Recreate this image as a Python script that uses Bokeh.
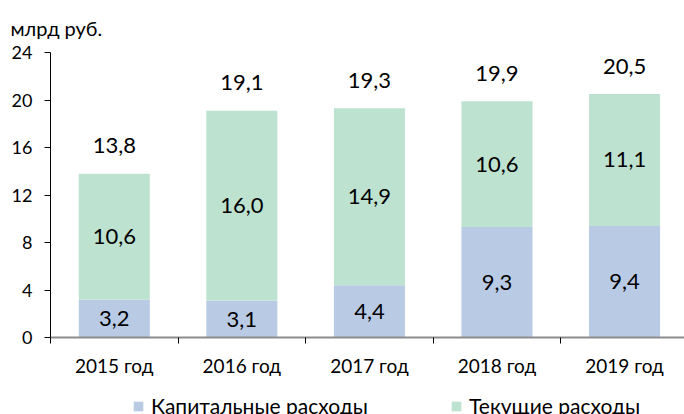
import numpy as np
from bokeh.plotting import figure
from bokeh.layouts import column
from bokeh.models import (Range1d, FixedTicker, Legend, LegendItem, Title,
                          ColumnDataSource)
from bokeh.core.properties import value
from bokeh.embed import file_html
from bokeh.resources import INLINE

# ---- data ----
years = ["2015 год", "2016 год", "2017 год", "2018 год", "2019 год"]
capital = [3.2, 3.1, 4.4, 9.3, 9.4]
current = [10.6, 16.0, 14.9, 10.6, 11.1]
totals = [13.8, 19.1, 19.3, 19.9, 20.5]
y_ticks = [0, 4, 8, 12, 16, 20, 24]
unit_label = "млрд руб."
series_names = ["Капитальные расходы", "Текущие расходы"]

FONT = "Lato"
BLUE = "#B8CAE4"
GREEN = "#BEE2D0"

def fmt(v):
    return f"{v:.1f}".replace(".", ",")

x = np.arange(len(years)) + 0.5
cap = np.array(capital)
cur = np.array(current)

src = ColumnDataSource(dict(
    x=x, cap=cap, cur_top=cap + cur,
    cap_mid=cap / 2, cur_mid=cap + cur / 2,
    cap_lbl=[fmt(v) for v in capital],
    cur_lbl=[fmt(v) for v in current],
    tot=totals, tot_lbl=[fmt(v) for v in totals],
))

p = figure(width=684, height=384, output_backend="svg", toolbar_location=None,
           x_range=Range1d(0, 4.97), y_range=Range1d(0, 24),
           min_border_left=50, min_border_right=0, min_border_top=50,
           min_border_bottom=47)
p.outline_line_color = None
p.grid.visible = False
p.background_fill_color = "white"

w = 0.557
p.vbar(x="x", bottom=0, top="cap", width=w, source=src,
       fill_color=BLUE, line_color=None)
p.vbar(x="x", bottom="cap", top="cur_top", width=w, source=src,
       fill_color=GREEN, line_color=None)

common = dict(text_font=value(FONT), text_font_size="22px", text_color="black",
              text_align="center", text_baseline="middle", source=src)
p.text(x="x", y="cap_mid", text="cap_lbl", **common)
p.text(x="x", y="cur_mid", text="cur_lbl", **common)
p.text(x="x", y="tot", text="tot_lbl", y_offset=-28, **common)

# y axis
ya = p.yaxis[0]
ya.ticker = FixedTicker(ticks=y_ticks)
ya.axis_line_color = "black"
ya.major_tick_line_color = "black"
ya.major_tick_out = 6
ya.major_tick_in = 0
ya.minor_tick_line_color = None
ya.major_label_standoff = 12
ya.major_label_text_font = FONT
ya.major_label_text_font_size = "18px"
ya.major_label_text_color = "black"

# x axis
xa = p.xaxis[0]
xa.ticker = FixedTicker(ticks=list(x), minor_ticks=list(range(len(years) + 1)))
xa.major_label_overrides = {float(c): lbl for c, lbl in zip(x, years)}
xa.axis_line_color = "#8C8C8C"
xa.axis_line_width = 2
xa.major_tick_line_color = None
xa.major_tick_out = 0
xa.major_tick_in = 0
xa.minor_tick_line_color = "black"
xa.minor_tick_out = 6
xa.minor_tick_in = 0
xa.major_label_standoff = 10
xa.major_label_text_font = FONT
xa.major_label_text_font_size = "19px"
xa.major_label_text_color = "black"

# unit label as title
t = Title(text=unit_label, align="left", offset=-40, standoff=26,
          text_font=FONT, text_font_size="20px", text_font_style="normal",
          text_color="black")
p.add_layout(t, "above")

# legend strip (separate figure below the chart; frames align with main plot)
lf = figure(width=684, height=30, output_backend="svg", toolbar_location=None,
            x_range=Range1d(0, 1), y_range=Range1d(0, 1),
            x_axis_location=None, y_axis_location=None,
            min_border_left=0, min_border_right=0, min_border_top=0,
            min_border_bottom=0)
lf.outline_line_color = None
lf.grid.visible = False
# swatch renderers kept outside the visible range; only used by the legend
off = ColumnDataSource(dict(x=[10], top=[10]))
lr_cap = lf.vbar(x="x", top="top", width=1, source=off,
                 fill_color=BLUE, line_color=None)
lr_cur = lf.vbar(x="x", top="top", width=1, source=off,
                 fill_color=GREEN, line_color=None)
for r, name, lx in [(lr_cap, series_names[0], 82), (lr_cur, series_names[1], 400)]:
    lg = Legend(items=[LegendItem(label=name, renderers=[r])],
                location=(lx, -4), orientation="horizontal",
                glyph_width=12, glyph_height=12, label_standoff=7,
                label_text_font=FONT, label_text_font_size="21px",
                label_text_color="black", padding=0, margin=0, spacing=0,
                border_line_alpha=0, background_fill_alpha=0)
    lf.add_layout(lg, "center")

layout = column(p, lf, spacing=0)
open("out.html", "w").write(file_html(layout, INLINE))
